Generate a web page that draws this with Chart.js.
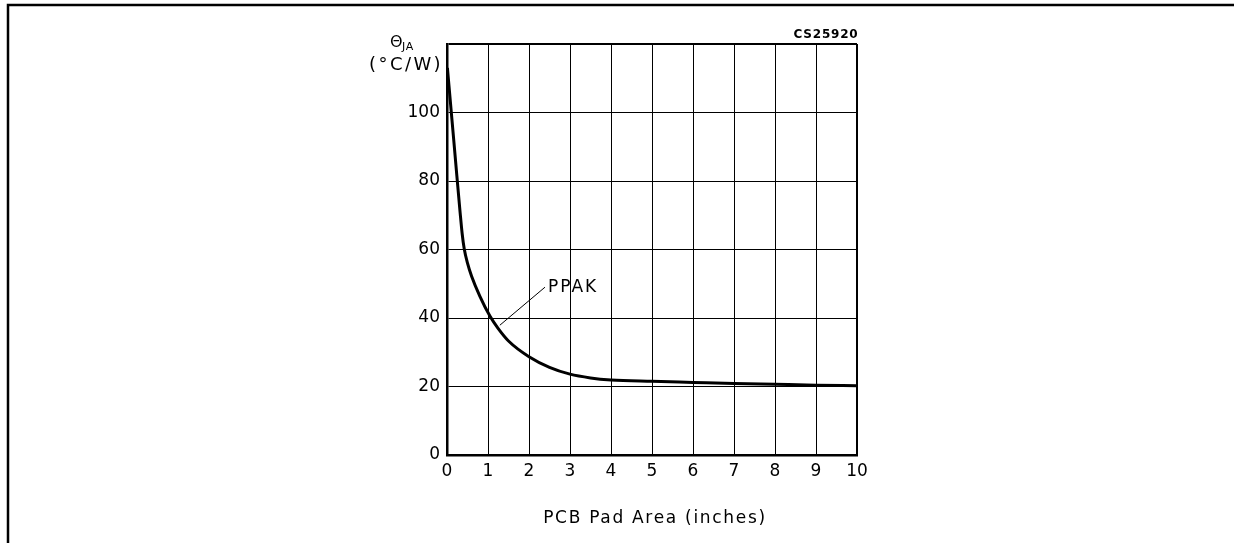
<!DOCTYPE html>
<html>
<head>
<meta charset="utf-8">
<script src="https://cdn.jsdelivr.net/npm/chart.js@4/dist/chart.umd.min.js"></script>
<style>
html,body{margin:0;padding:0;background:#fff;}
#wrap{width:1234px;height:543px;position:relative;}
</style>
</head>
<body>
<div id="wrap"><canvas id="c" width="1234" height="543"></canvas></div>
<script>
// Data
const padArea = [0.01, 0.12, 0.24, 0.32, 0.37, 0.42, 0.5, 0.6, 0.8, 1.05, 1.25, 1.5, 2.0, 2.5, 3.0, 3.5, 4.0, 5, 6, 7, 8, 9, 10];
const thetaJA = [113, 98, 81.6, 70.8, 64.6, 60.2, 56, 52.2, 46.4, 40.5, 36.9, 33.3, 28.7, 25.6, 23.6, 22.5, 21.9, 21.5, 21.2, 20.9, 20.65, 20.4, 20.2];
const leaderX = [1.29, 2.39];
const leaderY = [37.9, 49];
const seriesLabel = 'PPAK';
const xTicks = [0,1,2,3,4,5,6,7,8,9,10];
const yTicks = [0,20,40,60,80,100];
const xTitle = 'PCB Pad Area (inches)';
const yTitleMain = 'Θ';
const yTitleSub = 'JA';
const yTitleUnit = '(°C/W)';
const docCode = 'CS25920';

const FONT = '"DejaVu Sans", sans-serif';

const overlay = {
  id: 'overlay',
  afterDraw(chart) {
    const ctx = chart.ctx;
    const ca = chart.chartArea;
    const xs = chart.scales.x, ys = chart.scales.y;
    ctx.save();
    // frame
    ctx.strokeStyle = '#000';
    ctx.lineWidth = 2.5;
    ctx.beginPath();
    ctx.moveTo(8, 543);
    ctx.lineTo(8, 5);
    ctx.lineTo(1234, 5);
    ctx.stroke();
    ctx.fillStyle = '#000';
    ctx.textBaseline = 'alphabetic';
    // doc code
    ctx.font = 'bold 12px ' + FONT;
    ctx.letterSpacing = '0.8px';
    ctx.textAlign = 'right';
    ctx.fillText(docCode, ca.right + 1.5, ca.top - 6);
    // y title
    ctx.font = '18px ' + FONT;
    ctx.letterSpacing = '2.4px';
    ctx.textAlign = 'right';
    ctx.fillText(yTitleUnit, ca.left - 4, ca.top + 26);
    ctx.letterSpacing = '0px';
    ctx.textAlign = 'left';
    ctx.font = '16px ' + FONT;
    ctx.fillText(yTitleMain, ca.left - 57, ca.top + 3);
    ctx.font = '11px ' + FONT;
    ctx.letterSpacing = '0.6px';
    ctx.fillText(yTitleSub, ca.left - 45, ca.top + 6);
    // series label
    ctx.font = '17px ' + FONT;
    ctx.letterSpacing = '2px';
    ctx.textAlign = 'left';
    ctx.fillText(seriesLabel, xs.getPixelForValue(leaderX[1]) + 3, ys.getPixelForValue(leaderY[1]) + 5);
    // x title
    ctx.letterSpacing = '1.7px';
    ctx.textAlign = 'center';
    ctx.fillText(xTitle, (ca.left + ca.right) / 2 + 3, 523);
    ctx.restore();
  }
};

new Chart(document.getElementById('c'), {
  type: 'line',
  data: {
    datasets: [
      {
        data: padArea.map((x, i) => ({x, y: thetaJA[i]})),
        borderColor: '#000',
        borderWidth: 3,
        pointRadius: 0,
        cubicInterpolationMode: 'monotone',
        fill: false
      },
      {
        data: leaderX.map((x, i) => ({x, y: leaderY[i]})),
        borderColor: '#000',
        borderWidth: 1,
        pointRadius: 0,
        fill: false
      }
    ]
  },
  options: {
    responsive: false,
    animation: false,
    devicePixelRatio: 1,
    layout: { padding: { left: 0, right: 377, top: 44, bottom: 0 } },
    plugins: { legend: { display: false }, tooltip: { enabled: false } },
    scales: {
      x: {
        type: 'linear',
        min: 0, max: 10,
        afterBuildTicks(s) { s.ticks = xTicks.map(v => ({value: v})); },
        afterFit(s) { s.height = 88; },
        grid: {
          color: '#000',
          lineWidth: c => (c.tick && c.tick.value === 10) ? 2 : 1,
          drawTicks: false
        },
        border: { color: '#000', width: 2.5 },
        ticks: { color: '#000', font: { family: FONT, size: 17 }, padding: 6, maxRotation: 0 },
        title: { display: false }
      },
      y: {
        type: 'linear',
        min: 0, max: 120,
        afterBuildTicks(s) { s.ticks = yTicks.concat([120]).map(v => ({value: v})); },
        afterFit(s) { s.width = 447; },
        grid: {
          color: '#000',
          lineWidth: c => (c.tick && c.tick.value === 120) ? 2 : 1,
          drawTicks: false
        },
        border: { color: '#000', width: 2.5 },
        ticks: {
          color: '#000', font: { family: FONT, size: 17 }, padding: 7,
          callback: v => yTicks.includes(v) ? String(v) : ''
        }
      }
    }
  },
  plugins: [overlay]
});
</script>
</body>
</html>
